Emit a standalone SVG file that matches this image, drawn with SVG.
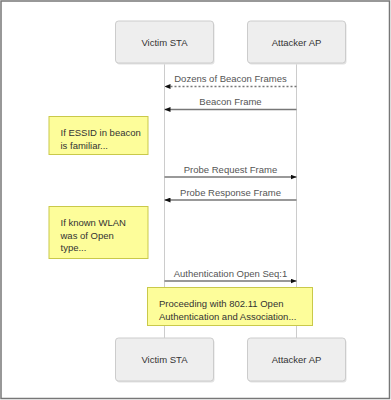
<svg xmlns="http://www.w3.org/2000/svg" width="391" height="400" viewBox="0 0 391 400">
<style>
.actor rect{fill:#eeeeee;stroke:#cccccc;stroke-width:1}
.shadow{fill:#dddddd}
.actor text{font-family:"Liberation Sans",Arial,sans-serif;font-size:9.5px;fill:#333;text-anchor:middle}
.life{stroke:#cccccc;stroke-width:1}
.msg{stroke:#777;stroke-width:1.3;fill:none}
.dash{stroke-dasharray:2,2}
.lbl{font-family:"Liberation Sans",Arial,sans-serif;font-size:9.5px;fill:#555;text-anchor:middle}
.note rect{fill:#fdfd9a;stroke:#c9c94a;stroke-width:1}
.note text{font-family:"Liberation Sans",Arial,sans-serif;font-size:9.5px;fill:#333}
</style>
<defs>
<marker id="ah" markerWidth="6" markerHeight="5" refX="6" refY="2.5" orient="auto" markerUnits="userSpaceOnUse">
<path d="M0,0 L6,2.5 L0,5 Z" fill="#111"/>
</marker>
</defs>
<rect x="1" y="1" width="388.5" height="397.5" fill="#fff" stroke="#777" stroke-width="1.5"/>
<g id="lifelines">
<line class="life" x1="164.5" y1="63" x2="164.5" y2="338"/>
<line class="life" x1="296.5" y1="63" x2="296.5" y2="338"/>
</g>
<g id="victim-top" class="actor">
<rect class="shadow" x="116.5" y="22.5" width="98" height="42" rx="3" style="fill:#e2e2e2;stroke:none"/>
<rect x="115.5" y="21" width="98" height="42" rx="3"/>
<text x="164.5" y="45.5">Victim STA</text>
</g>
<g id="attacker-top" class="actor">
<rect x="248.5" y="22.5" width="98" height="42" rx="3" style="fill:#e2e2e2;stroke:none"/>
<rect x="247.5" y="21" width="98" height="42" rx="3"/>
<text x="296.5" y="45.5">Attacker AP</text>
</g>
<g id="victim-bottom" class="actor">
<rect x="116.5" y="339.5" width="98" height="43" rx="3" style="fill:#e2e2e2;stroke:none"/>
<rect x="115.5" y="338" width="98" height="43" rx="3"/>
<text x="164.5" y="363">Victim STA</text>
</g>
<g id="attacker-bottom" class="actor">
<rect x="248.5" y="339.5" width="98" height="43" rx="3" style="fill:#e2e2e2;stroke:none"/>
<rect x="247.5" y="338" width="98" height="43" rx="3"/>
<text x="296.5" y="363">Attacker AP</text>
</g>
<g id="connectors">
<line class="msg dash" x1="296.5" y1="86.5" x2="164.5" y2="86.5" marker-end="url(#ah)"/>
<text class="lbl" x="230.5" y="82">Dozens of Beacon Frames</text>
<line class="msg" x1="296.5" y1="109.5" x2="164.5" y2="109.5" marker-end="url(#ah)"/>
<text class="lbl" x="230.5" y="105">Beacon Frame</text>
<line class="msg" x1="164.5" y1="177" x2="296.5" y2="177" marker-end="url(#ah)"/>
<text class="lbl" x="230.5" y="172.5">Probe Request Frame</text>
<line class="msg" x1="296.5" y1="200" x2="164.5" y2="200" marker-end="url(#ah)"/>
<text class="lbl" x="230.5" y="195.5">Probe Response Frame</text>
<line class="msg" x1="164.5" y1="281" x2="296.5" y2="281" marker-end="url(#ah)"/>
<text class="lbl" x="230.5" y="277">Authentication Open Seq:1</text>
</g>
<g id="note1" class="note">
<rect x="49" y="116.5" width="99" height="38"/>
<text x="60.5" y="136">If ESSID in beacon</text>
<text x="60.5" y="148.5">is familiar...</text>
</g>
<g id="note2" class="note">
<rect x="49" y="206.5" width="99" height="52"/>
<text x="60.5" y="226">If known WLAN</text>
<text x="60.5" y="238.5">was of Open</text>
<text x="60.5" y="251">type...</text>
</g>
<g id="note3" class="note">
<rect x="147.5" y="287.5" width="165" height="38"/>
<text x="159" y="307">Proceeding with 802.11 Open</text>
<text x="159" y="320">Authentication and Association...</text>
</g>
</svg>
